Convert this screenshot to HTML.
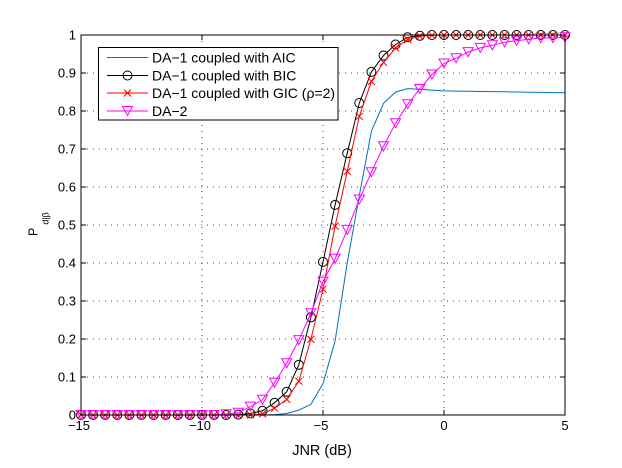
<!DOCTYPE html>
<html>
<head>
<meta charset="utf-8">
<style>
html,body{margin:0;padding:0;background:#fff;}
svg{display:block;}
text{font-family:"Liberation Sans",Arial,sans-serif;fill:#000;}
</style>
</head>
<body>
<svg width="622" height="468" viewBox="0 0 622 468" xmlns="http://www.w3.org/2000/svg">
<defs>
  <g id="mc"><circle cx="0" cy="0" r="4.5" fill="none" stroke="#000" stroke-width="1"/></g>
  <g id="mx"><path d="M-3.5,-3.5 L3.5,3.5 M-3.5,3.5 L3.5,-3.5" stroke="#ff0000" stroke-width="1" fill="none"/></g>
  <g id="mt"><path d="M-5,-4.5 L5,-4.5 L0,4.5 Z" stroke="#ff00ff" stroke-width="1" fill="none"/></g>
</defs>
<rect x="0" y="0" width="622" height="468" fill="#fff"/>
<rect x="81" y="35" width="484" height="380" fill="#fff"/>

<!-- grid -->
<g stroke="#444" stroke-width="1" stroke-dasharray="1 5" fill="none">
  <line x1="202" y1="35" x2="202" y2="415"/>
  <line x1="323" y1="35" x2="323" y2="415"/>
  <line x1="444" y1="35" x2="444" y2="415"/>
  <line x1="81" y1="377" x2="565" y2="377"/>
  <line x1="81" y1="339" x2="565" y2="339"/>
  <line x1="81" y1="301" x2="565" y2="301"/>
  <line x1="81" y1="263" x2="565" y2="263"/>
  <line x1="81" y1="225" x2="565" y2="225"/>
  <line x1="81" y1="187" x2="565" y2="187"/>
  <line x1="81" y1="149" x2="565" y2="149"/>
  <line x1="81" y1="111" x2="565" y2="111"/>
  <line x1="81" y1="73" x2="565" y2="73"/>
</g>

<!-- series -->
<polyline fill="none" stroke="#0072bd" stroke-width="1" points="81,415 262.5,415 274.6,414.6 286.7,413.5 298.8,410.1 310.9,404.4 323,383.5 335.1,340.9 347.2,263 359.3,195.7 371.4,131.1 383.5,103.4 395.6,92 407.7,88.6 419.8,89.3 431.9,90.1 444,90.9 456.1,91.1 468.2,91.3 480.3,91.5 492.4,91.6 504.5,91.8 516.6,92 528.7,92.2 540.8,92.4 552.9,92.6 565,92.8"/>

<polyline fill="none" stroke="#000" stroke-width="1" points="81,415 226.2,415 238.3,414.6 250.4,413.5 262.5,410.8 274.6,402.8 286.7,391.8 298.8,364.8 310.9,317.3 323,261.9 335.1,204.9 347.2,153.2 359.3,103 371.4,71.9 383.5,55.5 395.6,44.5 407.7,37.3 419.8,35.8 431.9,35 565,35"/>
<g>
<use href="#mc" x="81" y="415"/><use href="#mc" x="93.1" y="415"/><use href="#mc" x="105.2" y="415"/><use href="#mc" x="117.3" y="415"/><use href="#mc" x="129.4" y="415"/><use href="#mc" x="141.5" y="415"/><use href="#mc" x="153.6" y="415"/><use href="#mc" x="165.7" y="415"/><use href="#mc" x="177.8" y="415"/><use href="#mc" x="189.9" y="415"/><use href="#mc" x="202" y="415"/><use href="#mc" x="214.1" y="415"/><use href="#mc" x="226.2" y="415"/><use href="#mc" x="238.3" y="414.6"/><use href="#mc" x="250.4" y="413.5"/><use href="#mc" x="262.5" y="410.8"/><use href="#mc" x="274.6" y="402.8"/><use href="#mc" x="286.7" y="391.8"/><use href="#mc" x="298.8" y="364.8"/><use href="#mc" x="310.9" y="317.3"/><use href="#mc" x="323" y="261.9"/><use href="#mc" x="335.1" y="204.9"/><use href="#mc" x="347.2" y="153.2"/><use href="#mc" x="359.3" y="103"/><use href="#mc" x="371.4" y="71.9"/><use href="#mc" x="383.5" y="55.5"/><use href="#mc" x="395.6" y="44.5"/><use href="#mc" x="407.7" y="37.3"/><use href="#mc" x="419.8" y="35.8"/><use href="#mc" x="431.9" y="35"/><use href="#mc" x="444" y="35"/><use href="#mc" x="456.1" y="35"/><use href="#mc" x="468.2" y="35"/><use href="#mc" x="480.3" y="35"/><use href="#mc" x="492.4" y="35"/><use href="#mc" x="504.5" y="35"/><use href="#mc" x="516.6" y="35"/><use href="#mc" x="528.7" y="35"/><use href="#mc" x="540.8" y="35"/><use href="#mc" x="552.9" y="35"/><use href="#mc" x="565" y="35"/>
</g>

<polyline fill="none" stroke="#ff0000" stroke-width="1" points="81,415 250.4,415 262.5,413.9 274.6,408.2 286.7,399.4 298.8,381.2 310.9,339.4 323,289.2 335.1,226.1 347.2,171.4 359.3,116.3 371.4,81.4 383.5,62.4 395.6,47.9 407.7,39.6 419.8,36.1 431.9,35.4 444,35 565,35"/>
<g>
<use href="#mx" x="81" y="415"/><use href="#mx" x="93.1" y="415"/><use href="#mx" x="105.2" y="415"/><use href="#mx" x="117.3" y="415"/><use href="#mx" x="129.4" y="415"/><use href="#mx" x="141.5" y="415"/><use href="#mx" x="153.6" y="415"/><use href="#mx" x="165.7" y="415"/><use href="#mx" x="177.8" y="415"/><use href="#mx" x="189.9" y="415"/><use href="#mx" x="202" y="415"/><use href="#mx" x="214.1" y="415"/><use href="#mx" x="226.2" y="415"/><use href="#mx" x="238.3" y="415"/><use href="#mx" x="250.4" y="415"/><use href="#mx" x="262.5" y="413.9"/><use href="#mx" x="274.6" y="408.2"/><use href="#mx" x="286.7" y="399.4"/><use href="#mx" x="298.8" y="381.2"/><use href="#mx" x="310.9" y="339.4"/><use href="#mx" x="323" y="289.2"/><use href="#mx" x="335.1" y="226.1"/><use href="#mx" x="347.2" y="171.4"/><use href="#mx" x="359.3" y="116.3"/><use href="#mx" x="371.4" y="81.4"/><use href="#mx" x="383.5" y="62.4"/><use href="#mx" x="395.6" y="47.9"/><use href="#mx" x="407.7" y="39.6"/><use href="#mx" x="419.8" y="36.1"/><use href="#mx" x="431.9" y="35.4"/><use href="#mx" x="444" y="35"/><use href="#mx" x="456.1" y="35"/><use href="#mx" x="468.2" y="35"/><use href="#mx" x="480.3" y="35"/><use href="#mx" x="492.4" y="35"/><use href="#mx" x="504.5" y="35"/><use href="#mx" x="516.6" y="35"/><use href="#mx" x="528.7" y="35"/><use href="#mx" x="540.8" y="35"/><use href="#mx" x="552.9" y="35"/><use href="#mx" x="565" y="35"/>
</g>

<polyline fill="none" stroke="#ff00ff" stroke-width="1" points="81,415 214.1,415 226.2,414.2 238.3,412.7 250.4,406.6 262.5,399.8 274.6,382.7 286.7,363.3 298.8,340.1 310.9,313.2 323,281.6 335.1,258.8 347.2,229.9 359.3,199.5 371.4,172.2 383.5,146.3 395.6,123.2 407.7,104.2 419.8,89 431.9,74.5 444,63.5 456.1,58.2 468.2,52.1 480.3,47.9 492.4,45.3 504.5,42.2 516.6,40.7 528.7,39.2 540.8,38 552.9,38 565,37.3"/>
<g>
<use href="#mt" x="81" y="415"/><use href="#mt" x="93.1" y="415"/><use href="#mt" x="105.2" y="415"/><use href="#mt" x="117.3" y="415"/><use href="#mt" x="129.4" y="415"/><use href="#mt" x="141.5" y="415"/><use href="#mt" x="153.6" y="415"/><use href="#mt" x="165.7" y="415"/><use href="#mt" x="177.8" y="415"/><use href="#mt" x="189.9" y="415"/><use href="#mt" x="202" y="415"/><use href="#mt" x="214.1" y="415"/><use href="#mt" x="226.2" y="414.2"/><use href="#mt" x="238.3" y="412.7"/><use href="#mt" x="250.4" y="406.6"/><use href="#mt" x="262.5" y="399.8"/><use href="#mt" x="274.6" y="382.7"/><use href="#mt" x="286.7" y="363.3"/><use href="#mt" x="298.8" y="340.1"/><use href="#mt" x="310.9" y="313.2"/><use href="#mt" x="323" y="281.6"/><use href="#mt" x="335.1" y="258.8"/><use href="#mt" x="347.2" y="229.9"/><use href="#mt" x="359.3" y="199.5"/><use href="#mt" x="371.4" y="172.2"/><use href="#mt" x="383.5" y="146.3"/><use href="#mt" x="395.6" y="123.2"/><use href="#mt" x="407.7" y="104.2"/><use href="#mt" x="419.8" y="89"/><use href="#mt" x="431.9" y="74.5"/><use href="#mt" x="444" y="63.5"/><use href="#mt" x="456.1" y="58.2"/><use href="#mt" x="468.2" y="52.1"/><use href="#mt" x="480.3" y="47.9"/><use href="#mt" x="492.4" y="45.3"/><use href="#mt" x="504.5" y="42.2"/><use href="#mt" x="516.6" y="40.7"/><use href="#mt" x="528.7" y="39.2"/><use href="#mt" x="540.8" y="38"/><use href="#mt" x="552.9" y="38"/><use href="#mt" x="565" y="37.3"/>
</g>

<!-- axes box and ticks -->
<g stroke="#000" stroke-width="1" fill="none">
  <rect x="81" y="35" width="484" height="380"/>
  <path d="M202,415 v-5 M323,415 v-5 M444,415 v-5 M202,35 v5 M323,35 v5 M444,35 v5"/>
  <path d="M81,377 h5 M81,339 h5 M81,301 h5 M81,263 h5 M81,225 h5 M81,187 h5 M81,149 h5 M81,111 h5 M81,73 h5"/>
  <path d="M565,377 h-5 M565,339 h-5 M565,301 h-5 M565,263 h-5 M565,225 h-5 M565,187 h-5 M565,149 h-5 M565,111 h-5 M565,73 h-5"/>
</g>

<!-- tick labels -->
<g font-size="13" text-anchor="end">
  <text x="76" y="419.5">0</text>
  <text x="76" y="381.5">0.1</text>
  <text x="76" y="343.5">0.2</text>
  <text x="76" y="305.5">0.3</text>
  <text x="76" y="267.5">0.4</text>
  <text x="76" y="229.5">0.5</text>
  <text x="76" y="191.5">0.6</text>
  <text x="76" y="153.5">0.7</text>
  <text x="76" y="115.5">0.8</text>
  <text x="76" y="77.5">0.9</text>
  <text x="76" y="39.5">1</text>
</g>
<g font-size="13" text-anchor="middle">
  <text x="79" y="430">−15</text>
  <text x="200" y="430">−10</text>
  <text x="321" y="430">−5</text>
  <text x="444" y="430">0</text>
  <text x="565" y="430">5</text>
</g>

<!-- axis labels -->
<text x="322" y="455" font-size="14.5" text-anchor="middle">JNR (dB)</text>
<text transform="translate(37.5,236) rotate(-90)" font-size="12.5">P<tspan font-size="9" dx="3" dy="11">d|β</tspan></text>

<!-- legend -->
<rect x="98.5" y="47.5" width="239.5" height="72.5" fill="#fff" stroke="#000" stroke-width="1"/>
<line x1="107" y1="57.5" x2="148" y2="57.5" stroke="#0072bd" stroke-width="1"/>
<line x1="107" y1="75.5" x2="148" y2="75.5" stroke="#000" stroke-width="1"/>
<use href="#mc" x="127.5" y="75.5"/>
<line x1="107" y1="93" x2="148" y2="93" stroke="#ff0000" stroke-width="1"/>
<use href="#mx" x="127.5" y="93"/>
<line x1="107" y1="111" x2="148" y2="111" stroke="#ff00ff" stroke-width="1"/>
<use href="#mt" x="127.5" y="111"/>
<g font-size="14">
  <text x="152" y="62.5">DA−1 coupled with AIC</text>
  <text x="152" y="80.5">DA−1 coupled with BIC</text>
  <text x="152" y="98">DA−1 coupled with GIC (ρ=2)</text>
  <text x="152" y="116">DA−2</text>
</g>
</svg>
</body>
</html>
